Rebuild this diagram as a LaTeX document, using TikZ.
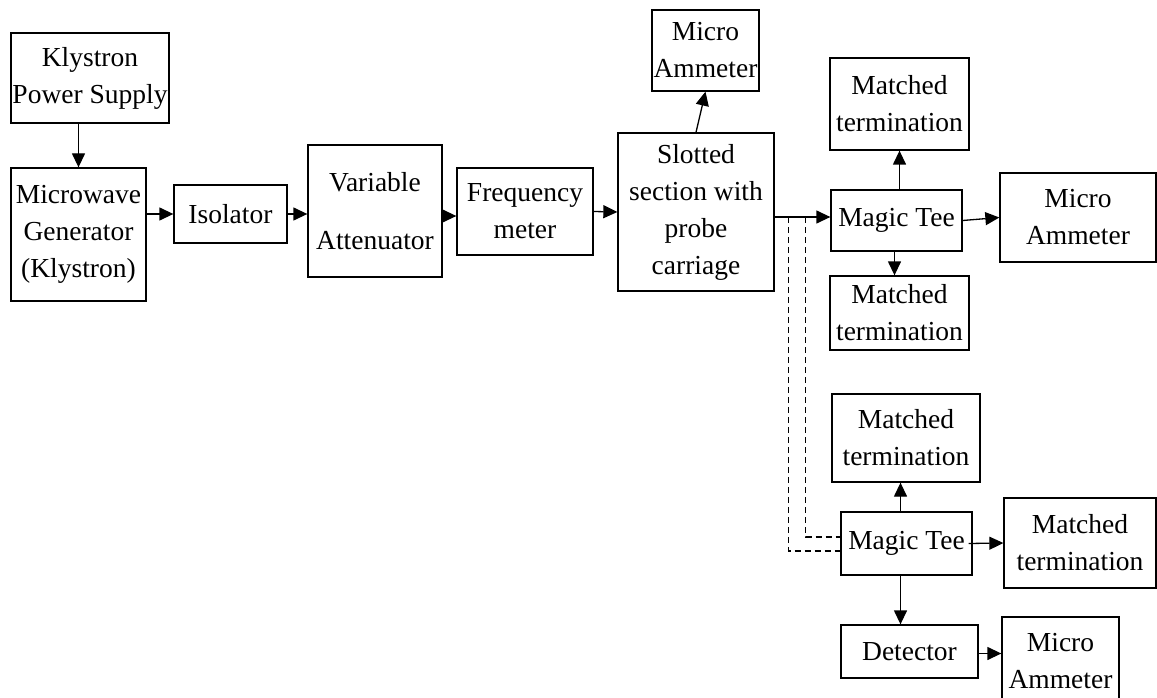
\documentclass[tikz,border=0pt]{standalone}
\usepackage{fontspec}
\setmainfont{Liberation Serif}
\usetikzlibrary{arrows.meta,calc}
\begin{document}
\begin{tikzpicture}[x=1pt,y=-1pt,
  blk/.style={draw, line width=1.3pt, align=center, inner sep=0pt,
    font=\fontsize{27.5}{37}\selectfont},
  arr/.style={line width=1.3pt, -{Triangle[length=14pt,width=13pt]}},
  dsh/.style={line width=1.3pt, dash pattern=on 6pt off 4pt}]
\useasboundingbox (0,0) rectangle (1157,698);

% main chain
\node[blk, minimum width=158pt, minimum height=90pt]  (kps) at (90,78)     {Klystron\\Power Supply};
\node[blk, minimum width=135pt, minimum height=133pt] (mg)  at (78.5,234.5) {Microwave\\Generator\\(Klystron)};
\node[blk, minimum width=113pt, minimum height=58pt]  (iso) at (230.5,214)  {Isolator};
\node[blk, minimum width=134pt, minimum height=132pt] (va)  at (375,211)    {Variable\\[21pt]Attenuator};
\node[blk, minimum width=136pt, minimum height=87pt]  (fm)  at (525,211.5)  {Frequency\\meter};
\node[blk, minimum width=156pt, minimum height=158pt] (ss)  at (696,212)    {Slotted\\section with\\probe\\carriage};
\node[blk, minimum width=107pt, minimum height=81pt]  (ma1) at (705.5,50.5) {Micro\\Ammeter};

% first magic tee
\node[blk, minimum width=131pt, minimum height=61pt]  (tee1)  at (896.5,220.5) {Magic Tee};
\node[blk, minimum width=139pt, minimum height=92pt]  (mt1a)  at (899.5,104)   {Matched\\termination};
\node[blk, minimum width=139pt, minimum height=74pt]  (mt1b)  at (899.5,313)   {Matched\\termination};
\node[blk, minimum width=156pt, minimum height=89pt]  (ma2)   at (1078,217.5)  {Micro\\Ammeter};

% second magic tee
\node[blk, minimum width=131pt, minimum height=63pt]  (tee2)  at (906.5,543.5) {Magic Tee};
\node[blk, minimum width=148pt, minimum height=88pt]  (mt2a)  at (906,438)     {Matched\\termination};
\node[blk, minimum width=152pt, minimum height=90pt]  (mt2b)  at (1080,543)    {Matched\\termination};
\node[blk, minimum width=137pt, minimum height=53pt]  (det)   at (909.5,651.5) {Detector};
\node[blk, minimum width=117pt, minimum height=88pt]  (ma3)   at (1060.5,661)  {Micro\\Ammeter};

% connectors of the main chain
\draw[arr] (mg.north |- kps.south) -- (mg.north);
\draw[arr] (mg.east |- iso.west) -- (iso.west);
\draw[arr] (iso.east) -- (va.west |- iso.east);
\draw[arr] ([yshift=-5pt]va.east) -- ([yshift=-5pt]va.east -| fm.west);
\draw[arr] (fm.east) -- (ss.west);
\draw[arr] (ss.north) -- (ma1.south);

% slotted section to first magic tee, with taps for the second one
\coordinate (tap) at ($(ss.east)+(0,5)$);
\draw[arr] (tap) -- (tap -| tee1.west);
\coordinate (d1) at ($(tap)+(14,0)$);
\coordinate (d2) at ($(tap)+(31,0)$);
\draw[dsh] (d1) |- ([yshift=-7.5pt]tee2.west);
\draw[dsh] (d2) |- ([yshift=6.5pt]tee2.west);

% first magic tee outputs
\draw[arr] (tee1.north -| mt1a.south) -- (mt1a.south);
\draw[arr] ([xshift=-2pt]tee1.south) -- ([xshift=-2pt]tee1.south |- mt1b.north);
\draw[arr] (tee1.east) -- (ma2.west);

% second magic tee outputs
\draw[arr] ([xshift=-6pt]tee2.north) -- ([xshift=-6pt]tee2.north |- mt2a.south);
\draw[arr] ([xshift=-4pt]tee2.east) -- (mt2b.west);
\draw[arr] ([xshift=-6pt]tee2.south) -- ([xshift=-6pt]tee2.south |- det.north);
\draw[arr] ([yshift=-2pt]det.east) -- ([yshift=-2pt]det.east -| ma3.west);
\end{tikzpicture}
\end{document}
